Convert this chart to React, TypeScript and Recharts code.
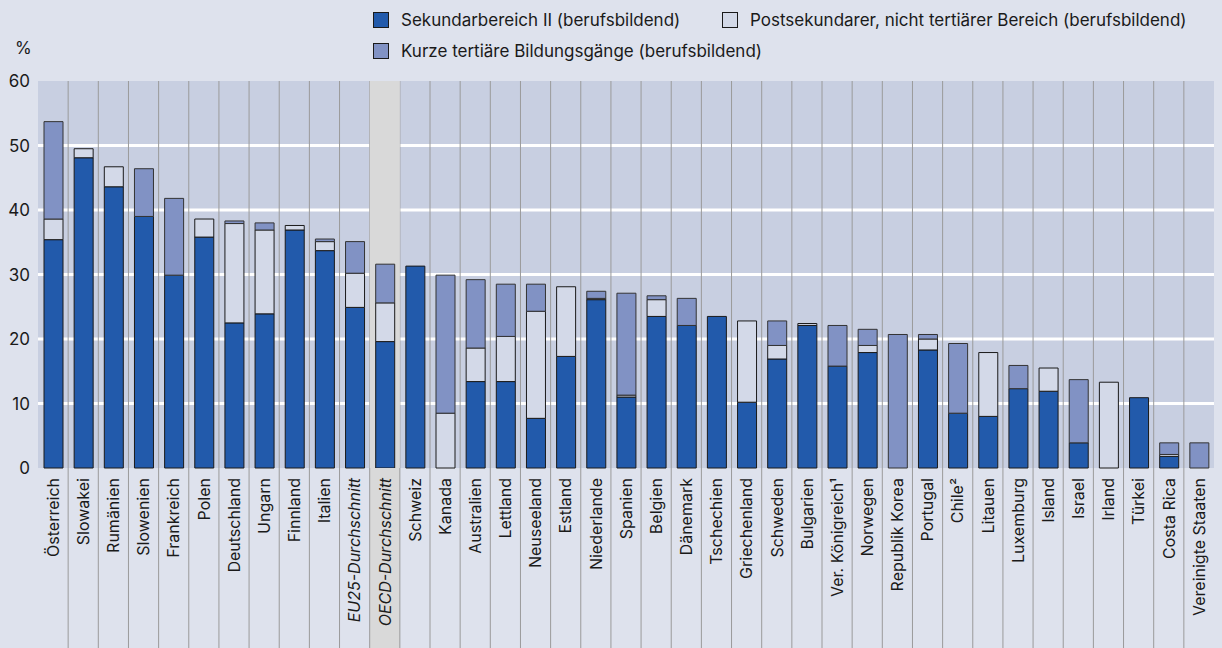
import { BarChart, Bar, XAxis, YAxis, CartesianGrid, ReferenceArea } from "recharts";

const countries = [
  "Österreich", "Slowakei", "Rumänien", "Slowenien", "Frankreich", "Polen",
  "Deutschland", "Ungarn", "Finnland", "Italien", "EU25-Durchschnitt",
  "OECD-Durchschnitt", "Schweiz", "Kanada", "Australien", "Lettland",
  "Neuseeland", "Estland", "Niederlande", "Spanien", "Belgien", "Dänemark",
  "Tschechien", "Griechenland", "Schweden", "Bulgarien", "Ver. Königreich¹",
  "Norwegen", "Republik Korea", "Portugal", "Chile²", "Litauen", "Luxemburg",
  "Island", "Israel", "Irland", "Türkei", "Costa Rica", "Vereinigte Staaten",
];

// Sekundarbereich II (berufsbildend)
const sekundar = [
  35.4, 48.1, 43.6, 39.0, 29.9, 35.8, 22.5, 23.9, 36.9, 33.7, 24.9, 19.6, 31.3,
  0, 13.4, 13.4, 7.7, 17.3, 26.1, 11.0, 23.5, 22.1, 23.5, 10.2, 16.9, 22.1,
  15.8, 17.9, 0, 18.3, 8.5, 8.0, 12.3, 11.9, 3.9, 0, 10.9, 1.8, 0,
];

// Postsekundarer, nicht tertiärer Bereich (berufsbildend)
const postsekundar = [
  3.2, 1.4, 3.1, 0, 0, 2.8, 15.4, 13.0, 0.7, 1.4, 5.3, 6.0, 0,
  8.5, 5.2, 7.0, 16.6, 10.8, 0.2, 0.3, 2.6, 0, 0, 12.6, 2.1, 0.3,
  0, 1.1, 0, 1.7, 0, 9.9, 0, 3.6, 0, 13.3, 0, 0.3, 0,
];

// Kurze tertiäre Bildungsgänge (berufsbildend)
const tertiaer = [
  15.1, 0, 0, 7.4, 11.9, 0, 0.4, 1.1, 0, 0.4, 4.9, 6.0, 0,
  21.4, 10.6, 8.1, 4.2, 0, 1.1, 15.8, 0.6, 4.2, 0, 0, 3.8, 0,
  6.3, 2.5, 20.7, 0.7, 10.8, 0, 3.6, 0, 9.8, 0, 0, 1.8, 3.9,
];

const yTicks = [0, 10, 20, 30, 40, 50, 60];

const data = countries.map((name, i) => ({
  name,
  sek: sekundar[i],
  post: postsekundar[i],
  tert: tertiaer[i],
}));

const FONT = "Inter, 'Noto Sans', sans-serif";
const BLUE = "#225aab";
const LIGHT = "#d3d9e8";
const TERT = "#8192c4";
const PLOT_BG = "#c8cfe1";
const PAGE_BG = "#dee2ed";
const HILITE = "#d9d9d9";
const SEP = "#9a9a9a";
const OECD = "OECD-Durchschnitt";

const CountryTick = (props: any) => {
  const { x, y, payload, index, width, visibleTicksCount } = props;
  const colW = width / (visibleTicksCount || countries.length);
  const top = y - 8;
  const italic = payload.value === OECD || payload.value.startsWith("EU25");
  return (
    <g>
      {payload.value === OECD && (
        <rect x={x - colW / 2} y={top} width={colW} height={648 - top} fill={HILITE} />
      )}
      {index > 0 && (
        <line x1={x - colW / 2} x2={x - colW / 2} y1={top} y2={648} stroke={SEP} strokeWidth={1} />
      )}
      <text
        x={x}
        y={y + 2}
        dy="0.36em"
        transform={`rotate(-90, ${x}, ${y + 2})`}
        textAnchor="end"
        fontFamily={FONT}
        fontSize={16}
        fontStyle={italic ? "italic" : "normal"}
        fill="#1a1a1a"
      >
        {payload.value}
      </text>
    </g>
  );
};

const legendItems = [
  { label: "Sekundarbereich II (berufsbildend)", color: BLUE, left: 373, top: 12 },
  { label: "Postsekundarer, nicht tertiärer Bereich (berufsbildend)", color: LIGHT, left: 722, top: 12 },
  { label: "Kurze tertiäre Bildungsgänge (berufsbildend)", color: TERT, left: 373, top: 43 },
];

export default function App() {
  return (
    <div
      style={{
        position: "absolute",
        left: 0,
        top: 0,
        width: 1222,
        height: 648,
        background: PAGE_BG,
        fontFamily: FONT,
        overflow: "hidden",
      }}
    >
      {legendItems.map((item) => (
        <div
          key={item.label}
          style={{
            position: "absolute",
            left: item.left,
            top: item.top,
            display: "flex",
            alignItems: "center",
            fontSize: 17,
            color: "#1a1a1a",
            whiteSpace: "nowrap",
            lineHeight: "16px",
          }}
        >
          <span
            style={{
              display: "inline-block",
              width: 14,
              height: 14,
              background: item.color,
              border: "1px solid #1a1a1a",
              marginRight: 12,
            }}
          />
          {item.label}
        </div>
      ))}
      <div style={{ position: "absolute", left: 15, top: 38, fontSize: 17, color: "#1a1a1a" }}>%</div>
      <BarChart
        width={1222}
        height={648}
        data={data}
        margin={{ top: 81, right: 8, bottom: 0, left: 0 }}
        barSize={19}
      >
        <CartesianGrid
          vertical={false}
          horizontalValues={[10, 20, 30, 40, 50]}
          stroke="#ffffff"
          strokeWidth={3}
          fill={PLOT_BG}
          fillOpacity={1}
        />
        <ReferenceArea x1={OECD} x2={OECD} fill={HILITE} fillOpacity={1} stroke="none" />
        <CartesianGrid
          horizontal={false}
          stroke={SEP}
          strokeWidth={1}
          verticalCoordinatesGenerator={({ offset }: any) =>
            countries.slice(1).map((_c, i) => offset.left + ((i + 1) * offset.width) / countries.length)
          }
        />
        <XAxis
          dataKey="name"
          interval={0}
          height={180}
          axisLine={false}
          tickLine={false}
          tick={<CountryTick />}
        />
        <YAxis
          width={38}
          domain={[0, 60]}
          ticks={yTicks}
          axisLine={false}
          tickLine={false}
          tick={{ fontFamily: FONT, fontSize: 17, fill: "#1a1a1a" }}
        />
        <Bar dataKey="sek" stackId="a" fill={BLUE} stroke="#1a1a1a" strokeWidth={1} isAnimationActive={false} />
        <Bar dataKey="post" stackId="a" fill={LIGHT} stroke="#1a1a1a" strokeWidth={1} isAnimationActive={false} />
        <Bar dataKey="tert" stackId="a" fill={TERT} stroke="#333333" strokeWidth={1} isAnimationActive={false} />
      </BarChart>
    </div>
  );
}
